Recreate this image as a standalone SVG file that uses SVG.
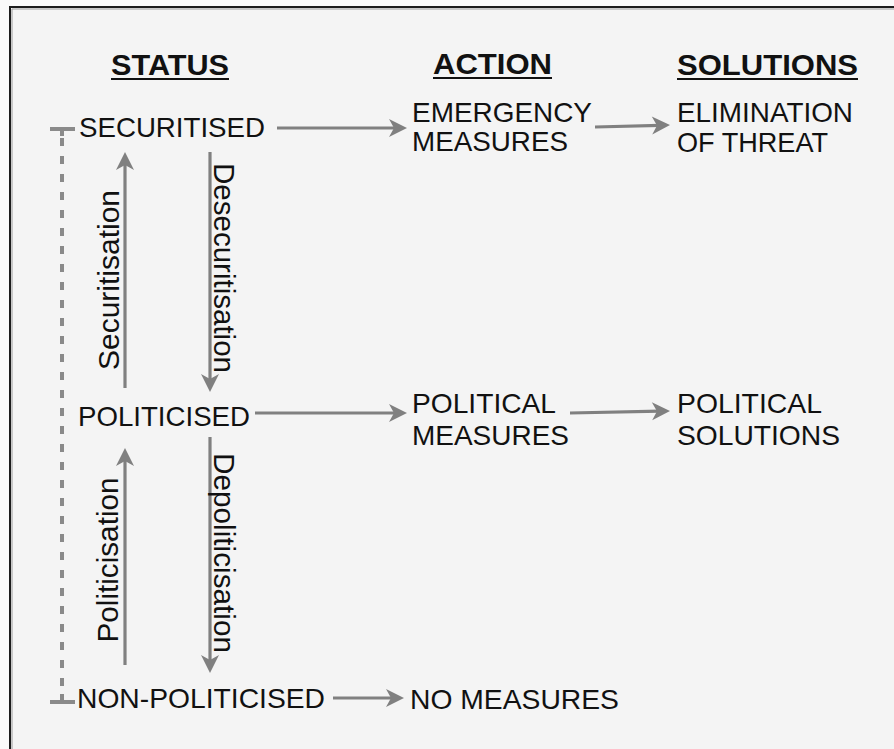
<svg xmlns="http://www.w3.org/2000/svg" width="894" height="749" viewBox="0 0 894 749">
  <style>
    .lbl { font-family: "Liberation Sans", Arial, Helvetica, sans-serif; font-size: 28px; fill: #111; }
    .head { font-family: "Liberation Sans", Arial, Helvetica, sans-serif; font-size: 30px; font-weight: bold; fill: #111; }
    .rot { font-family: "Liberation Sans", Arial, Helvetica, sans-serif; font-size: 29px; fill: #111; text-anchor: middle; }
    .uline { stroke: #111; stroke-width: 2; }
    .conn { stroke: #808080; stroke-width: 3.2; fill: none; }
    .dash { stroke: #8a8a8a; stroke-width: 4; fill: none; stroke-dasharray: 8 10; }
    .tick { stroke: #8a8a8a; stroke-width: 4; fill: none; }
  </style>
  <defs>
    <marker id="arrow" markerUnits="userSpaceOnUse" viewBox="-10 -10 22 20" markerWidth="22" markerHeight="20" refX="0" refY="0" orient="auto">
      <path d="M10,0 L-8,-9 L-3,0 L-8,9 Z" fill="#808080"/>
    </marker>
  </defs>

  <!-- page and frame -->
  <rect x="0" y="0" width="894" height="749" fill="#fafafa"/>
  <rect x="10" y="7" width="884" height="742" fill="#f4f4f4"/>
  <path d="M10,749 V7 H894" fill="none" stroke="#1c1c1c" stroke-width="2"/>
  <path d="M12,749 V9 H894" fill="none" stroke="#9a9a9a" stroke-width="1"/>

  <!-- column headings -->
  <g id="head-status">
    <text class="head" x="111" y="75" textLength="118" lengthAdjust="spacingAndGlyphs">STATUS</text>
    <line class="uline" x1="111" y1="79" x2="229" y2="79"/>
  </g>
  <g id="head-action">
    <text class="head" x="433" y="74" textLength="119" lengthAdjust="spacingAndGlyphs">ACTION</text>
    <line class="uline" x1="433" y1="78" x2="552" y2="78"/>
  </g>
  <g id="head-solutions">
    <text class="head" x="677" y="75" textLength="181" lengthAdjust="spacingAndGlyphs">SOLUTIONS</text>
    <line class="uline" x1="677" y1="79" x2="858" y2="79"/>
  </g>

  <!-- connectors -->
  <g id="connectors">
    <path class="dash" d="M62,138 V694"/>
    <path class="tick" d="M50,129 H75 M62,129 V136"/>
    <path class="tick" d="M50,702 H75 M62,694 V702"/>
    <path class="conn" d="M277,128 H397" marker-end="url(#arrow)"/>
    <path class="conn" d="M595,127 L660,125.3" marker-end="url(#arrow)"/>
    <path class="conn" d="M255,413 H397" marker-end="url(#arrow)"/>
    <path class="conn" d="M570,413 L660,411.2" marker-end="url(#arrow)"/>
    <path class="conn" d="M333,698 H394" marker-end="url(#arrow)"/>
    <path class="conn" d="M125,388 V162" marker-end="url(#arrow)"/>
    <path class="conn" d="M210,152 V382" marker-end="url(#arrow)"/>
    <path class="conn" d="M125,665 V458" marker-end="url(#arrow)"/>
    <path class="conn" d="M210,437 V663" marker-end="url(#arrow)"/>
  </g>

  <!-- transition labels -->
  <g id="lbl-securitisation">
    <text class="rot" transform="translate(119,280) rotate(-90)" textLength="180" lengthAdjust="spacingAndGlyphs">Securitisation</text>
  </g>
  <g id="lbl-desecuritisation">
    <text class="rot" transform="translate(214,268) rotate(90)" textLength="210" lengthAdjust="spacingAndGlyphs">Desecuritisation</text>
  </g>
  <g id="lbl-politicisation">
    <text class="rot" transform="translate(118,560) rotate(-90)" textLength="165" lengthAdjust="spacingAndGlyphs">Politicisation</text>
  </g>
  <g id="lbl-depoliticisation">
    <text class="rot" transform="translate(214,553) rotate(90)" textLength="200" lengthAdjust="spacingAndGlyphs">Depoliticisation</text>
  </g>

  <!-- status nodes -->
  <g id="securitised">
    <text class="lbl" x="79" y="137" textLength="186" lengthAdjust="spacingAndGlyphs">SECURITISED</text>
  </g>
  <g id="politicised">
    <text class="lbl" x="78" y="426" textLength="172" lengthAdjust="spacingAndGlyphs">POLITICISED</text>
  </g>
  <g id="non-politicised">
    <text class="lbl" x="77" y="708" textLength="248" lengthAdjust="spacingAndGlyphs">NON-POLITICISED</text>
  </g>

  <!-- action nodes -->
  <g id="emergency-measures">
    <text class="lbl" x="412" y="122" textLength="180" lengthAdjust="spacingAndGlyphs">EMERGENCY</text>
    <text class="lbl" x="412" y="151" textLength="156" lengthAdjust="spacingAndGlyphs">MEASURES</text>
  </g>
  <g id="political-measures">
    <text class="lbl" x="412" y="413" textLength="144" lengthAdjust="spacingAndGlyphs">POLITICAL</text>
    <text class="lbl" x="412" y="445" textLength="157" lengthAdjust="spacingAndGlyphs">MEASURES</text>
  </g>
  <g id="no-measures">
    <text class="lbl" x="410" y="709" textLength="209" lengthAdjust="spacingAndGlyphs">NO MEASURES</text>
  </g>

  <!-- solution nodes -->
  <g id="elimination-of-threat">
    <text class="lbl" x="677" y="122" textLength="176" lengthAdjust="spacingAndGlyphs">ELIMINATION</text>
    <text class="lbl" x="677" y="152" textLength="151" lengthAdjust="spacingAndGlyphs">OF THREAT</text>
  </g>
  <g id="political-solutions">
    <text class="lbl" x="677" y="413" textLength="145" lengthAdjust="spacingAndGlyphs">POLITICAL</text>
    <text class="lbl" x="677" y="445" textLength="163" lengthAdjust="spacingAndGlyphs">SOLUTIONS</text>
  </g>
</svg>
